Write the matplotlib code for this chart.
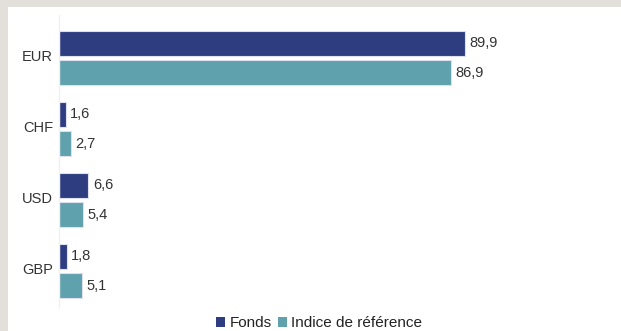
import numpy as np
import matplotlib
matplotlib.use("Agg")
import matplotlib.pyplot as plt
from matplotlib.patches import Rectangle, Patch

# données
devises = ["EUR", "CHF", "USD", "GBP"]
fonds = [89.9, 1.6, 6.6, 1.8]
indice = [86.9, 2.7, 5.4, 5.1]
series = ["Fonds", "Indice de référence"]

col_fonds = "#2e3d80"
col_indice = "#5fa1ac"

plt.rcParams['font.family'] = ['Liberation Sans Narrow', 'Liberation Sans', 'DejaVu Sans']

fig = plt.figure(figsize=(6.21, 3.31), dpi=100)
fig.patch.set_facecolor("#e3dfdb")
# panneau blanc
fig.patches.append(Rectangle((8 / 621, 0), 1, 1 - 7 / 331, transform=fig.transFigure,
                             facecolor="white", edgecolor="none", zorder=-1))

ax = fig.add_axes([58.6 / 621, 1 - 307 / 331, (610 - 58.6) / 621, (307 - 15) / 331])
ax.set_facecolor("none")
ax.set_zorder(2)

y = np.arange(len(devises))
h = 0.36
off = 0.207
b1 = ax.barh(y - off, fonds, height=h, color=col_fonds, edgecolor="#dde1ef", linewidth=0.8)
b2 = ax.barh(y + off, indice, height=h, color=col_indice, edgecolor="#dde1ef", linewidth=0.8)

for bars, vals in ((b1, fonds), (b2, indice)):
    for r, v in zip(bars, vals):
        ax.text(r.get_width() + 1.0, r.get_y() + r.get_height() / 2, f"{v:.1f}".replace(".", ","),
                va="center", ha="left", fontsize=10.5, color="#333333")

ax.set_xlim(0, 551.4 / 4.516)
ax.set_ylim(3 + 0.507, -0.606)
ax.set_yticks(y - 0.04)
ax.set_yticklabels(devises, fontsize=10.5, color="#333333")
ax.tick_params(axis="y", length=0, pad=4)
ax.set_xticks([])
for s in ["top", "right", "bottom"]:
    ax.spines[s].set_visible(False)
ax.spines["left"].set_color("#f0f0f0")
ax.spines["left"].set_linewidth(1)

handles = [Patch(facecolor=col_fonds), Patch(facecolor=col_indice)]
leg = fig.legend(handles, series, loc="center", bbox_to_anchor=(319 / 621, 0.024), ncol=2,
                 frameon=False, fontsize=11, handlelength=0.6, handleheight=0.6,
                 handletextpad=0.3, columnspacing=0.4, labelcolor="#222222",
                 borderpad=0.1)
leg.set_zorder(3)

fig.savefig("out.png", dpi=100, facecolor=fig.get_facecolor())
